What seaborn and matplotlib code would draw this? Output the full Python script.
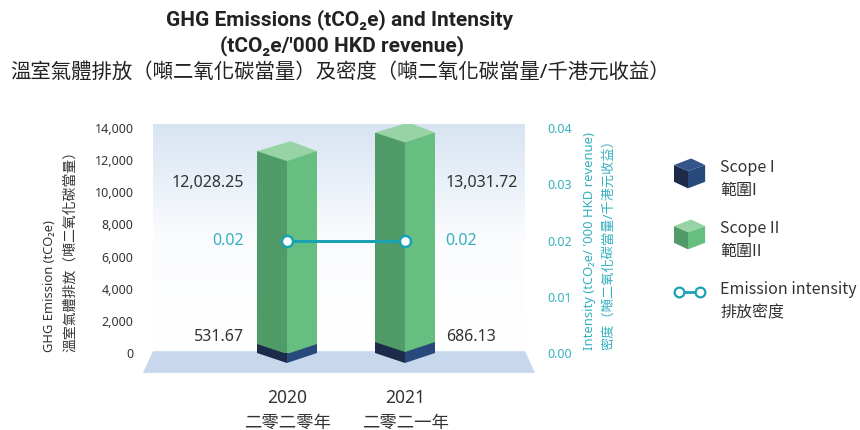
import numpy as np
import pandas as pd
import seaborn as sns
import matplotlib.pyplot as plt
from matplotlib.patches import Polygon
from matplotlib.lines import Line2D
from matplotlib.colors import LinearSegmentedColormap
from matplotlib.legend_handler import HandlerBase, HandlerLine2D

# data
years = ["2020", "2021"]
years_zh = ["二零二零年", "二零二一年"]
scope1 = [531.67, 686.13]
scope2 = [12028.25, 13031.72]
intensity = [0.02, 0.02]
emission_ticks = [0, 2000, 4000, 6000, 8000, 10000, 12000, 14000]
intensity_ticks = [0.00, 0.01, 0.02, 0.03, 0.04]

# colours
green_l, green_r, green_top = "#519b69", "#66bf81", "#98d3a5"
navy_l, navy_r, navy_top = "#1c2b4a", "#28497b", "#34558c"
teal = "#1aa2b3"
teal_txt = "#36b0bf"
txt = "#333333"

sns.set_theme(style="white")
plt.rcParams["font.family"] = ["Noto Sans", "Noto Sans CJK TC", "DejaVu Sans"]

BAR_W = 0.51
Y_TOP = 14250
D = 620  # slant of the bar faces, in data units

fig = plt.figure(figsize=(8.6, 4.3), dpi=100)
ax = fig.add_axes([153 / 860, 77 / 430, 372 / 860, 229 / 430])

# background panel gradient and floor
grad = np.linspace(1, 0, 256).reshape(-1, 1)
cmap = LinearSegmentedColormap.from_list("bg", ["#ffffff", "#fbfcfe", "#d8e4f2"])
ax.imshow(grad, extent=[-1.136, 2.017, 0, Y_TOP], aspect="auto", cmap=cmap, zorder=0)
ax.add_patch(Polygon([[-0.027, -0.087], [1.027, -0.087], [1.0, 0.008], [0.0, 0.008]],
                     closed=True, transform=ax.transAxes, fc="#c7d7ec", ec="none",
                     clip_on=False, zorder=0.5))

total = np.add(scope1, scope2)
faces = pd.DataFrame({
    "year": years * 2,
    "face": ["left"] * len(years) + ["right"] * len(years),
    "total": list(total) * 2,
    "scope1": scope1 * 2,
})

sns.barplot(data=faces, x="year", y="total", hue="face", hue_order=["left", "right"],
            palette=[green_l, green_r], width=BAR_W, gap=0, saturation=1,
            linewidth=0, legend=False, ax=ax, zorder=2)
sns.barplot(data=faces, x="year", y="scope1", hue="face", hue_order=["left", "right"],
            palette=[navy_l, navy_r], width=BAR_W, gap=0, saturation=1,
            linewidth=0, legend=False, ax=ax, zorder=2)

# 3d look: slanted edges and top face
pad = 80
for i, (s1, tot) in enumerate(zip(scope1, total)):
    xl, xc, xr = i - BAR_W / 2, i, i + BAR_W / 2
    ax.fill([xl, xc, xc], [0, 0, -D], color=navy_l, lw=0, clip_on=False, zorder=3)
    ax.fill([xc, xr, xc], [0, 0, -D], color=navy_r, lw=0, clip_on=False, zorder=3)
    ax.fill([xl, xl, xc, xc], [s1, s1 + pad, s1 + pad, s1 - D], color=green_l, lw=0, zorder=3)
    ax.fill([xc, xc, xr, xr], [s1 - D, s1 + pad, s1 + pad, s1], color=green_r, lw=0, zorder=3)
    ax.fill([xl, xc, xr, xc + 0.03], [tot, tot - D, tot, tot + D], color=green_top,
            lw=0, zorder=3)

ax.set_xlim(-1.136, 2.017)
ax.set_ylim(0, Y_TOP)
ax.set_yticks(emission_ticks)
ax.set_yticklabels([f"{v:,}" for v in emission_ticks], color=txt, fontsize=9)
ax.set_xticks(range(len(years)))
ax.set_xticklabels([f"{y}\n{z}" for y, z in zip(years, years_zh)], fontsize=12.5,
                   color=txt, linespacing=1.45)
ax.tick_params(axis="y", length=0, pad=14)
ax.tick_params(axis="x", length=0, pad=26)
ax.set_xlabel("")
ax.set_ylabel("")

# intensity line on secondary axis
ax2 = ax.twinx()
sns.lineplot(x=np.arange(len(years)), y=intensity, ax=ax2, color=teal, linewidth=2.2,
             marker="o", markersize=8, markerfacecolor="white", markeredgecolor=teal,
             markeredgewidth=1.8, zorder=5)
ax2.set_ylim(0, 0.04 * Y_TOP / 14000)
ax2.set_yticks(intensity_ticks)
ax2.set_yticklabels([f"{v:.2f}" for v in intensity_ticks], color=teal_txt, fontsize=9)
ax2.tick_params(axis="y", length=0, pad=16)
for a in (ax, ax2):
    for s in a.spines.values():
        s.set_visible(False)

# value labels
for i in range(len(years)):
    if i == 0:
        x, ha = i - BAR_W / 2 - 0.11, "right"
    else:
        x, ha = i + BAR_W / 2 + 0.09, "left"
    ax.text(x, 0.742, f"{scope2[i]:,.2f}", transform=ax.get_xaxis_transform(),
            ha=ha, va="center", fontsize=11.5, color=txt)
    ax.text(x, 0.07, f"{scope1[i]:,.2f}", transform=ax.get_xaxis_transform(),
            ha=ha, va="center", fontsize=11.5, color=txt)
    ax2.text(x, intensity[i], f"{intensity[i]:.2f}", ha=ha, va="center",
             fontsize=11.5, color=teal_txt)

# axis titles
fig.text(50 / 860, 1 - 352 / 430, "GHG Emission (tCO₂e)", rotation=90, ha="center",
         va="bottom", fontsize=9.3, color=txt)
fig.text(71 / 860, 1 - 352 / 430, "溫室氣體排放（噸二氧化碳當量）", rotation=90,
         ha="center", va="bottom", fontsize=10, color=txt)
fig.text(590 / 860, 1 - 350 / 430, "Intensity (tCO₂e/ '000 HKD revenue)", rotation=90,
         ha="center", va="bottom", fontsize=9.4, color=teal_txt)
fig.text(609 / 860, 1 - 350 / 430, "密度（噸二氧化碳當量/千港元收益）", rotation=90,
         ha="center", va="bottom", fontsize=9.5, color=teal_txt)

# chart title
title_font = ["Roboto", "DejaVu Sans"]
fig.text(340 / 860, 1 - 20 / 430, "GHG Emissions (tCO₂e) and Intensity", ha="center",
         va="center", fontsize=15, fontweight="bold", color="#222222", family=title_font)
fig.text(342 / 860, 1 - 46 / 430, "(tCO₂e/'000 HKD revenue)", ha="center",
         va="center", fontsize=15, fontweight="bold", color="#222222", family=title_font)
fig.text(340 / 860, 1 - 73 / 430, "溫室氣體排放（噸二氧化碳當量）及密度（噸二氧化碳當量/千港元收益）",
         ha="center", va="center", fontsize=14.7, color="#222222")


# legend with little cubes
class Cube:
    def __init__(self, left, right, top):
        self.left, self.right, self.top = left, right, top


class CubeHandler(HandlerBase):
    def legend_artist(self, legend, orig_handle, fontsize, handlebox):
        w, h = handlebox.width, handlebox.height
        x0 = -handlebox.xdescent
        y0 = -handlebox.ydescent + 0.45 * fontsize
        xf = x0 + 0.45 * w
        polys = [
            ([[x0, y0 + 0.22 * h], [xf, y0], [xf, y0 + 0.58 * h], [x0, y0 + 0.78 * h]], orig_handle.left),
            ([[xf, y0], [x0 + w, y0 + 0.22 * h], [x0 + w, y0 + 0.78 * h], [xf, y0 + 0.58 * h]], orig_handle.right),
            ([[x0, y0 + 0.78 * h], [xf, y0 + 0.58 * h], [x0 + w, y0 + 0.78 * h], [x0 + 0.55 * w, y0 + h]], orig_handle.top),
        ]
        for pts, c in polys:
            p = Polygon(pts, closed=True, fc=c, ec="none", transform=handlebox.get_transform())
            handlebox.add_artist(p)
        return p


class RaisedLineHandler(HandlerLine2D):
    # put the o-o icon level with the first line of its label
    def create_artists(self, legend, orig_handle, xdescent, ydescent, width, height,
                       fontsize, trans):
        return super().create_artists(legend, orig_handle, xdescent,
                                      ydescent - 0.75 * fontsize, width, height,
                                      fontsize, trans)


intensity_handle = Line2D([], [], color=teal, lw=2, marker="o", markersize=7,
                          markerfacecolor="white", markeredgecolor=teal,
                          markeredgewidth=1.6)
handles = [
    Cube(navy_l, navy_r, navy_top),
    Cube(green_l, green_r, green_top),
    intensity_handle,
]
labels = ["Scope I\n範圍I", "Scope II\n範圍II", "Emission intensity\n排放密度"]
leg = fig.legend(handles, labels,
                 handler_map={Cube: CubeHandler(), intensity_handle: RaisedLineHandler(numpoints=2)},
                 loc="upper left", bbox_to_anchor=(0.767, 0.664), frameon=False,
                 prop={"family": ["Noto Sans CJK TC", "DejaVu Sans"], "size": 11.5},
                 labelcolor=txt, handlelength=1.95, handleheight=2.5, handletextpad=0.95,
                 labelspacing=1.3, numpoints=2)
for t in leg.get_texts():
    t.set_linespacing(1.48)

fig.savefig("out.png", dpi=100)
